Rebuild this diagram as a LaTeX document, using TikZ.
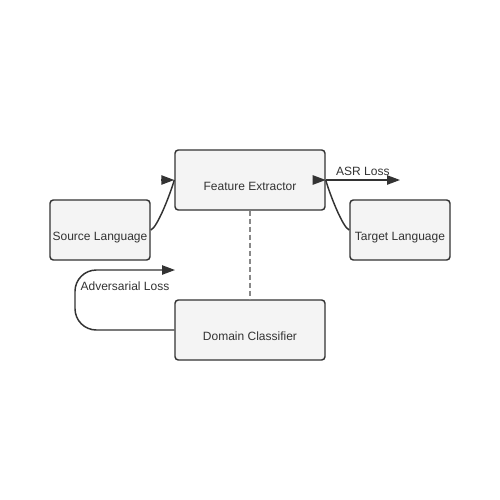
\documentclass[tikz,border=0pt]{standalone}
\usepackage{fontspec}
\setmainfont{Liberation Sans}
\usetikzlibrary{arrows.meta,calc}
\definecolor{boxfill}{HTML}{F4F4F4}
\definecolor{boxline}{HTML}{333333}
\definecolor{dashgray}{HTML}{888888}

\begin{document}
\begin{tikzpicture}[x=0.75pt,y=0.75pt,yscale=-1,xscale=1,
  box/.style={draw=boxline, fill=boxfill, line width=1.1pt, rounded corners=2.5pt,
    minimum width=112.5pt, minimum height=45pt, inner sep=0pt,
    text=boxline, font=\fontsize{9}{11}\selectfont, text height=15pt, text depth=0pt},
  smallbox/.style={box, minimum width=75pt},
  link/.style={draw=boxline, line width=1.1pt},
  tip/.style={-{Triangle[length=9.75pt,width=7pt]}},
  lbl/.style={text=boxline, font=\fontsize{9}{11}\selectfont}]

\fill [white] (0, 0) rectangle (500, 500);
\useasboundingbox (0, 0) rectangle (500, 500);

%%%%%%%%%%%%%%%%%%%%%%%%%%%%%%%%%%%%%%%%%%%%%%%%%%%%%%%%%%%%%%%%%%%%%%%%

\node [box] (fe) at (250, 180) {Feature Extractor};
\node [smallbox] (src) at (100, 230) {Source Language};
\node [smallbox] (tgt) at (400, 230) {Target Language};
\node [box] (dc) at (250, 330) {Domain Classifier};

\coordinate (asrend) at (400, 180);
\coordinate (advend) at (175, 270);

%%%%%%%%%%%%%%%%%%%%%%%%%%%%%%%%%%%%%%%%%%%%%%%%%%%%%%%%%%%%%%%%%%%%%%%%

\draw [link] (src.east) .. controls (157, 228) and (170, 195) .. (fe.west);
\draw [link, tip] ($(fe.west)+(-13, 0)$) -- (fe.west);

\draw [link] (tgt.west) .. controls (343, 228) and (330, 195) .. (fe.east);
\draw [link, tip] ($(fe.east)+(-13, 0)$) -- (fe.east);

\draw [link, tip] (fe.east) -- node [lbl, above, inner sep=2.5pt] {ASR Loss} (asrend);

%%%%%%%%%%%%%%%%%%%%%%%%%%%%%%%%%%%%%%%%%%%%%%%%%%%%%%%%%%%%%%%%%%%%%%%%

\draw [dashgray, line width=1.1pt, dash pattern=on 3.75pt off 2.25pt] (fe.south) -- (dc.north);

\draw [link, tip, rounded corners=16pt] (dc.west) -| (75, 270) -- (advend);
\node [lbl] (advlbl) at (125, 286) {Adversarial Loss};

%%%%%%%%%%%%%%%%%%%%%%%%%%%%%%%%%%%%%%%%%%%%%%%%%%%%%%%%%%%%%%%%%%%%%%%%

\end{tikzpicture}
\end{document}
